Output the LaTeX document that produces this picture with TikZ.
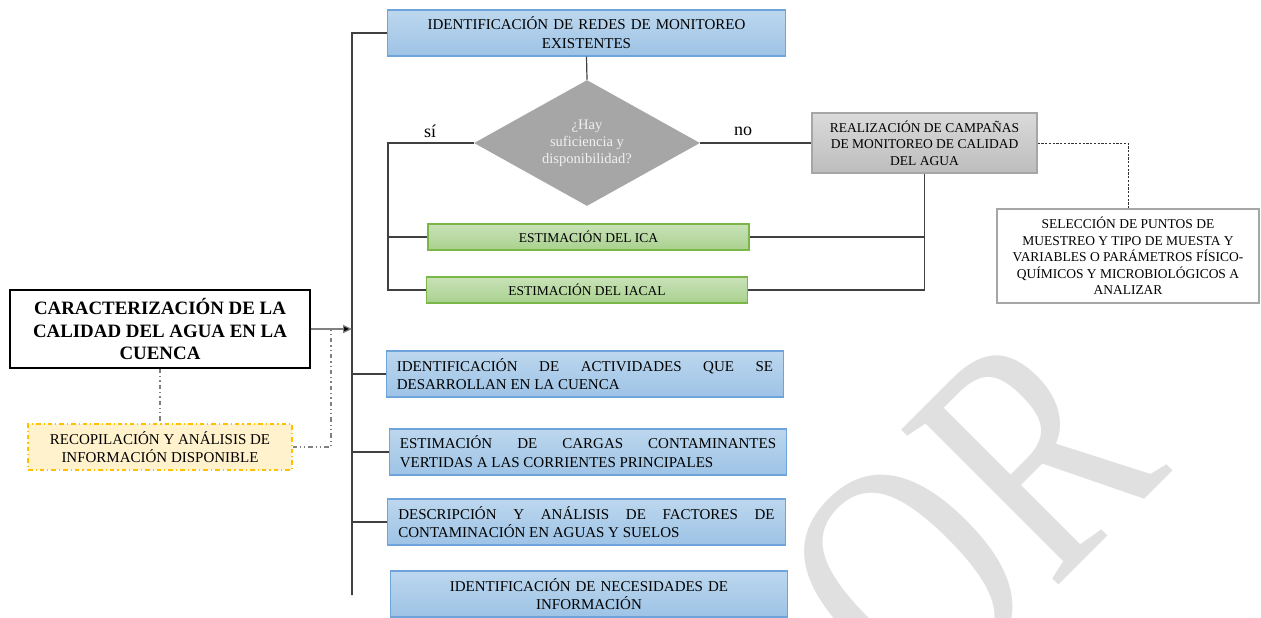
\documentclass[tikz,border=0pt]{standalone}
\usepackage{fontspec}
\setmainfont{Liberation Serif}
\usetikzlibrary{shapes.geometric,arrows.meta}

\definecolor{azulclaro}{HTML}{BDD7EE}
\definecolor{azul}{HTML}{9DC3E6}
\definecolor{azulborde}{HTML}{6FA3DB}
\definecolor{verdeclaro}{HTML}{C9E2B8}
\definecolor{verde}{HTML}{A9D18E}
\definecolor{verdeborde}{HTML}{7AB648}
\definecolor{grisclaro}{HTML}{DADADA}
\definecolor{gris}{HTML}{BDBDBD}
\definecolor{grisborde}{HTML}{A6A6A6}
\definecolor{rombo}{HTML}{A6A6A6}
\definecolor{amarillo}{HTML}{FFF2CC}
\definecolor{amarilloborde}{HTML}{FFC000}
\definecolor{marca}{HTML}{E0E0E0}
\definecolor{linea}{HTML}{404040}

\hyphenpenalty=10000
\exhyphenpenalty=10000
\tolerance=9999

\tikzset{
  link/.style={draw=linea, line width=0.8pt},
  dotlink/.style={draw=gray, line width=0.8pt, dash dot dot},
  dashlink/.style={draw=black!80, line width=0.5pt, dash pattern=on 1.5pt off 1pt},
  mainbox/.style={draw=black, line width=1pt, minimum width=200pt, minimum height=52pt,
    align=center, font=\fontsize{12.6}{14.8}\selectfont\bfseries},
  recopbox/.style={draw=amarilloborde, fill=amarillo, line width=0.8pt, dash dot,
    minimum width=176pt, minimum height=30.7pt, align=center,
    font=\fontsize{10}{12.5}\selectfont},
  bluebox/.style={draw=azulborde, line width=0.8pt, top color=azulclaro, bottom color=azul,
    text width=251pt, inner xsep=7pt, inner ysep=0pt, minimum height=30.7pt,
    font=\fontsize{10}{12.5}\selectfont},
  greenbox/.style={draw=verdeborde, line width=0.8pt, top color=verdeclaro, bottom color=verde,
    minimum width=214pt, minimum height=17.3pt, inner sep=0pt,
    font=\fontsize{9}{11}\selectfont},
  graybox/.style={draw=grisborde, line width=0.8pt, top color=grisclaro, bottom color=gris,
    minimum width=150pt, minimum height=40pt, inner sep=0pt, align=center,
    font=\fontsize{9}{11.1}\selectfont},
  notebox/.style={draw=grisborde, line width=0.8pt, fill=white,
    minimum width=174.8pt, minimum height=62.7pt, inner sep=0pt, align=center,
    font=\fontsize{9}{11}\selectfont},
  question/.style={diamond, fill=rombo, aspect=1.8, inner sep=0pt,
    minimum width=150.7pt, minimum height=84pt, align=center,
    text=white!88!gray, font=\fontsize{9.7}{11.3}\selectfont},
  answer/.style={font=\fontsize{12}{12}\selectfont},
  watermark/.style={text=marca, font=\fontsize{225}{225}\selectfont, inner sep=0pt}
}

\begin{document}
\begin{tikzpicture}[x=0.667pt, y=-0.667pt]
\useasboundingbox (0,0) rectangle (1261,617);

% sello de fondo
\begin{scope}
\clip (0,0) rectangle (1261,617);
\node[watermark, rotate=45, anchor=base east] (sello) at (1174,470) {\scalebox{0.76}[1]{OR}};
\end{scope}

% proceso principal
\node[mainbox] (caract) at (160,329) {CARACTERIZACIÓN DE LA\\CALIDAD DEL AGUA EN LA\\CUENCA};
\node[recopbox] (recop) at (160,447) {RECOPILACIÓN Y ANÁLISIS DE\\INFORMACIÓN DISPONIBLE};

% actividades
\node[bluebox, align=center] (redes) at (586.5,33) {IDENTIFICACIÓN DE REDES DE MONITOREO\\EXISTENTES};
\node[bluebox, align=justify] (activ) at (585,374) {IDENTIFICACIÓN DE ACTIVIDADES QUE SE DESARROLLAN EN LA CUENCA};
\node[bluebox, align=justify] (cargas) at (588,452) {ESTIMACIÓN DE CARGAS CONTAMINANTES VERTIDAS A LAS CORRIENTES PRINCIPALES};
\node[bluebox, align=justify] (factores) at (586.5,522) {DESCRIPCIÓN Y ANÁLISIS DE FACTORES DE CONTAMINACIÓN EN AGUAS Y SUELOS};
\node[bluebox, align=center] (necesid) at (589,594) {IDENTIFICACIÓN DE NECESIDADES DE\\INFORMACIÓN};

% decision sobre la informacion existente
\node[question] (hay) at (587,143) {¿Hay\\suficiencia y\\disponibilidad?};
\node[greenbox] (ica) at (588.5,237) {ESTIMACIÓN DEL ICA};
\node[greenbox] (iacal) at (587,290) {ESTIMACIÓN DEL IACAL};
\node[graybox] (campanas) at (924.5,143) {REALIZACIÓN DE CAMPAÑAS\\DE MONITOREO DE CALIDAD\\DEL AGUA};
\node[notebox] (puntos) at (1128,256) {SELECCIÓN DE PUNTOS DE\\MUESTREO Y TIPO DE MUESTA Y\\VARIABLES O PARÁMETROS FÍSICO-\\QUÍMICOS Y MICROBIOLÓGICOS A\\ANALIZAR};
\node[answer] (si) at (430,131) {sí};
\node[answer] (no) at (743,131) {no};

% tronco
\coordinate (t1) at (352,33);
\coordinate (t2) at (352,595);
\coordinate (d1) at (331,329);
\coordinate (s1) at (388,143);

\draw[link] (redes.west) -- (t1) -- (t2) -- (necesid.west -| t2);
\foreach \n in {activ,cargas,factores}
  \draw[link] (\n.west) -- (\n.west -| t1);
\draw[link, draw=gray, -{Triangle[length=6pt,width=5.5pt,fill=black]}] (caract.east) -- (caract.east -| t1);
\draw[dotlink] (caract.south) -- (recop.north);
\draw[dotlink] (recop.east) -| (d1);

% ramas de la decision
\draw[link] (redes.south) -- (hay.north);
\draw[link] (hay.west) -- (s1) |- (iacal.west);
\draw[link] (ica.west -| s1) -- (ica.west);
\draw[link] (hay.east) -- (campanas.west);
\draw[link] (campanas.south) |- (iacal.east);
\draw[link] (ica.east) -- (ica.east -| campanas.south);
\draw[dashlink] (campanas.east) -| (puntos.north);
\end{tikzpicture}
\end{document}
